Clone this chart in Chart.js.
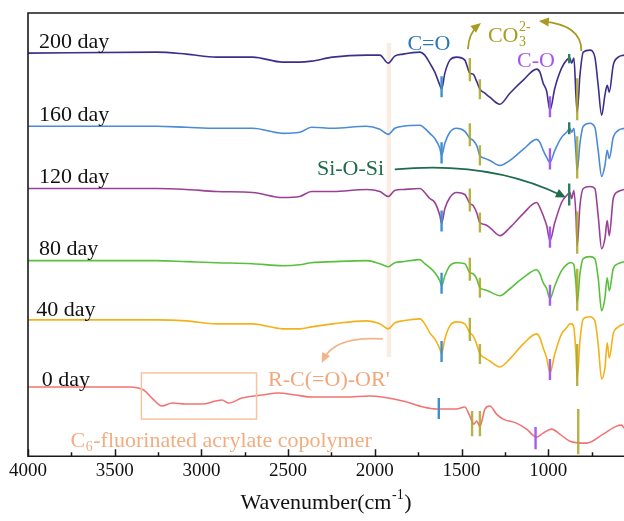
<!DOCTYPE html>
<html>
<head>
<meta charset="utf-8">
<script src="https://cdn.jsdelivr.net/npm/chart.js@4.4.1/dist/chart.umd.min.js"></script>
<style>
  html, body { margin: 0; padding: 0; background: #fff; }
  #wrap { width: 624px; height: 521px; }
</style>
</head>
<body>
<div id="wrap"><canvas id="ftir"></canvas></div>
<script>
// FTIR spectra, stacked transmittance (a.u.)
const tickValues = [4000, 3500, 3000, 2500, 2000, 1500, 1000];
const minorTickValues = [3750, 3250, 2750, 2250, 1750, 1250, 750];

// aged samples share one wavenumber grid
const wnAged = [4000, 3259, 3086, 2913, 2704, 2531, 2433, 2365, 2242, 2048, 1971, 1923, 1885, 1837, 1740, 1712, 1683, 1654, 1625, 1615,
  1596, 1567, 1529, 1481, 1452, 1433, 1413, 1394, 1365, 1337, 1279, 1221, 1144, 1067, 1048, 1029, 1009, 990, 962, 923,
  894, 875, 865, 852, 840, 833, 817, 798, 760, 731, 712, 692, 673, 660, 648, 625, 596, 563];

const day200 = [402, 403, 401, 398, 398, 393, 393, 394, 398, 400, 400, 392, 399, 401, 403, 400, 392, 383, 370, 366,
  382, 395, 398, 395, 382, 381, 374, 366, 362, 358, 351, 362, 375, 386, 383, 372, 364, 345, 367, 387,
  395, 397, 392, 397, 360, 343, 380, 403, 405, 398, 370, 340, 360, 370, 363, 390, 398, 400];
const day160 = [329, 329, 328, 327, 327, 322, 323, 328, 327, 329, 326, 321, 327, 329, 330, 327, 322, 317, 307, 300,
  312, 323, 327, 324, 317, 315, 310, 300, 297, 295, 290, 295, 306, 316, 313, 305, 298, 293, 305, 318,
  323, 327, 323, 327, 302, 285, 312, 329, 332, 328, 305, 279, 290, 305, 297, 318, 325, 327];
const day120 = [267, 267, 266, 264, 263, 258, 259, 264, 264, 266, 264, 259, 265, 266, 267, 263, 257, 253, 240, 232,
  247, 258, 263, 261, 252, 250, 243, 233, 231, 228, 220, 228, 242, 253, 248, 240, 230, 215, 233, 253,
  260, 263, 257, 265, 240, 210, 250, 267, 269, 267, 240, 207, 217, 235, 220, 257, 264, 266];
const day80 = [195, 195, 194, 193, 192, 190, 191, 193, 194, 195, 192, 189, 193, 194, 196, 192, 188, 183, 175, 170,
  180, 190, 193, 192, 183, 182, 177, 168, 166, 164, 160, 167, 178, 186, 182, 173, 167, 157, 170, 185,
  191, 193, 193, 191, 172, 153, 182, 197, 199, 197, 178, 145, 158, 178, 165, 187, 192, 194];
const day40 = [136, 136, 135, 132, 132, 127, 127, 129, 132, 135, 132, 127, 133, 135, 137, 132, 123, 117, 107, 102,
  117, 130, 134, 132, 123, 120, 112, 102, 98, 95, 89, 97, 112, 122, 118, 108, 98, 83, 102, 122,
  128, 132, 132, 128, 102, 78, 115, 137, 139, 135, 112, 77, 88, 113, 98, 122, 129, 132];

// unaged copolymer
const wn0 = [4000, 3419, 3333, 3285, 3227, 3169, 3092, 2996, 2919, 2881, 2842, 2766, 2650, 2554, 2457, 2362, 2169, 2029, 1837, 1721,
  1644, 1529, 1481, 1452, 1429, 1413, 1394, 1365, 1337, 1298, 1260, 1183, 1125, 1067, 1029, 981, 933, 875, 779, 683,
  606, 577, 563];
const day0 = [69, 69, 66, 58, 50, 53, 52, 52, 55, 56, 53, 58, 61, 63, 61, 59, 59, 60, 55, 49,
  47, 47, 49, 40, 32, 35, 30, 47, 50, 42, 37, 33, 27, 19, 23, 27, 22, 15, 13, 22,
  30, 31, 28];

const dayNames = ['200 day', '160 day', '120 day', '80 day', '40 day', '0 day'];

// band assignments: wavenumber and [low, high] span on each trace
const bandKind = ['C=O', 'CO3', 'CO3', 'C-O', 'Si-O-Si', 'CO3'];
const bandWn = [1615, 1452, 1394, 990, 879, 833];
const bands200 = [[358, 379], [374, 397], [356, 376], [338, 359], [392, 401], [335, 377]];
const bands160 = [[292, 313], [309, 332], [290, 310], [286, 307], [321, 333], [277, 319]];
const bands120 = [[224, 245], [244, 267], [223, 243], [208, 229], [250, 272], [202, 244]];
const bands80 = [[162, 183], [175, 198], [158, 178], [150, 171], null, [145, 187]];
const bands40 = [[94, 115], [115, 138], [92, 112], [76, 97], null, [70, 112]];
const bandKind0 = ['C=O', 'CO3', 'CO3', 'C-O', 'CO3'];
const bandWn0 = [1631, 1439, 1394, 1073, 827];
const bands0 = [[37, 58], [20, 45], [20, 45], [7, 29], [2, 47]];

const SERIF = '"Liberation Serif", "Times New Roman", serif';
const lineColors = ['#3b2f8c', '#4a8bd6', '#9a4196', '#58c13c', '#f3b21b', '#f27373'];
const bandColors = {
  'C=O': '#3d8fd1',
  'CO3': 'rgba(172,165,38,0.85)',
  'C-O': '#a35cf0',
  'Si-O-Si': '#2d7d5f'
};

const pts = (xs, ys) => xs.map((w, i) => ({ x: w, y: ys[i] }));

const traces = [
  pts(wnAged, day200), pts(wnAged, day160), pts(wnAged, day120),
  pts(wnAged, day80), pts(wnAged, day40), pts(wn0, day0)
];

const datasets = [];

// ester reference band (pale strip)
datasets.push({
  data: [{ x: 1919, y: 99 }, { x: 1919, y: 412 }],
  borderColor: 'rgba(244,218,200,0.5)',
  borderWidth: 4.5,
  pointRadius: 0,
  order: 3
});

traces.forEach((d, i) => {
  datasets.push({
    label: dayNames[i],
    data: d,
    borderColor: lineColors[i],
    borderWidth: 1.6,
    pointRadius: 0,
    cubicInterpolationMode: 'monotone',
    borderJoinStyle: 'round',
    order: 2
  });
});

function addBands(wns, kinds, spans) {
  spans.forEach((s, i) => {
    if (!s) return;
    datasets.push({
      data: [{ x: wns[i], y: s[0] }, { x: wns[i], y: s[1] }],
      borderColor: bandColors[kinds[i]],
      borderWidth: 2.4,
      borderCapStyle: 'butt',
      pointRadius: 0,
      order: 1
    });
  });
}
[bands200, bands160, bands120, bands80, bands40].forEach(b => addBands(bandWn, bandKind, b));
addBands(bandWn0, bandKind0, bands0);

// text with sub/superscripts
function richText(ctx, parts, px, py, size, color, align) {
  const base = size + 'px ' + SERIF;
  const small = Math.round(size * 0.65) + 'px ' + SERIF;
  const widths = parts.map(p => {
    if (p.sub || p.sup) {
      ctx.font = small;
      return Math.max(p.sub ? ctx.measureText(p.sub).width : 0, p.sup ? ctx.measureText(p.sup).width : 0) + 1;
    }
    ctx.font = base;
    return ctx.measureText(p.t).width;
  });
  const total = widths.reduce((s, w) => s + w, 0);
  let cx = align === 'left' ? px : px - total / 2;
  py += 2;
  ctx.fillStyle = color;
  ctx.textBaseline = 'middle';
  ctx.textAlign = 'left';
  parts.forEach((p, i) => {
    if (p.sub || p.sup) {
      ctx.font = small;
      if (p.sub) ctx.fillText(p.sub, cx + 0.5, py + size * 0.3);
      if (p.sup) ctx.fillText(p.sup, cx + 0.5, py - size * 0.38);
    } else {
      ctx.font = base;
      ctx.fillText(p.t, cx, py);
    }
    cx += widths[i];
  });
}

function curvedArrow(ctx, xs, ys, path, color, width) {
  const [s, c, e] = path.map(p => [xs.getPixelForValue(p[0]), ys.getPixelForValue(p[1])]);
  const ang = Math.atan2(e[1] - c[1], e[0] - c[0]);
  const len = 10, half = 4.5;
  ctx.strokeStyle = color;
  ctx.lineWidth = width;
  ctx.beginPath();
  ctx.moveTo(s[0], s[1]);
  ctx.quadraticCurveTo(c[0], c[1], e[0] - Math.cos(ang) * 4, e[1] - Math.sin(ang) * 4);
  ctx.stroke();
  ctx.fillStyle = color;
  ctx.beginPath();
  ctx.moveTo(e[0], e[1]);
  ctx.lineTo(e[0] - len * Math.cos(ang) + half * Math.sin(ang), e[1] - len * Math.sin(ang) - half * Math.cos(ang));
  ctx.lineTo(e[0] - len * Math.cos(ang) - half * Math.sin(ang), e[1] - len * Math.sin(ang) + half * Math.cos(ang));
  ctx.closePath();
  ctx.fill();
}

// labels and arrows, placed in wavenumber / a.u. coordinates
const dayLabelAt = [[3937, 415], [3937, 342], [3937, 280], [3937, 208], [3952, 148], [3921, 78]];
const notes = [
  { parts: [{ t: 'C=O' }], at: [1688, 413], color: '#2a78b8', align: 'center' },
  { parts: [{ t: 'CO' }, { sub: '3', sup: '2-' }], at: [1348, 421], color: '#a89b22', align: 'left' },
  { parts: [{ t: 'C-O' }], at: [1071, 396], color: '#a455ea', align: 'center' },
  { parts: [{ t: 'Si-O-Si' }], at: [2140, 288], color: '#1f6b4d', align: 'center' },
  { parts: [{ t: "R-C(=O)-OR'" }], at: [2265, 78], color: '#f2a77a', align: 'center' },
  { parts: [{ t: 'C' }, { sub: '6' }, { t: '-fluorinated acrylate copolymer' }], at: [2886, 17], color: '#f2ad80', align: 'center' }
];
const arrows = [
  { path: [[1463, 406], [1458, 422], [1388, 432]], color: '#a89b22' },
  { path: [[809, 404], [806, 430], [1054, 434]], color: '#a89b22' },
  { path: [[1885, 286], [1337, 295], [898, 258]], color: '#1f6b4d' },
  { path: [[1954, 117], [2231, 120], [2306, 93]], color: '#f4b48a' }
];
const boxWn = [3346, 2682];
const boxV = [37, 83];

const decor = {
  id: 'decor',
  afterDatasetsDraw(chart) {
    const { ctx, chartArea: a, scales: { x, y } } = chart;
    ctx.save();

    // frame (right side runs off the canvas)
    ctx.strokeStyle = '#1a1a1a';
    ctx.lineWidth = 1.6;
    ctx.beginPath();
    ctx.moveTo(a.right + 2, a.top);
    ctx.lineTo(a.left, a.top);
    ctx.lineTo(a.left, a.bottom);
    ctx.lineTo(a.right + 2, a.bottom);
    ctx.stroke();

    // inward ticks
    ctx.lineWidth = 1.5;
    ctx.beginPath();
    tickValues.forEach(v => {
      const px = Math.round(x.getPixelForValue(v)) + 0.5;
      ctx.moveTo(px, a.bottom);
      ctx.lineTo(px, a.bottom - 7);
    });
    minorTickValues.forEach(v => {
      const px = Math.round(x.getPixelForValue(v)) + 0.5;
      ctx.moveTo(px, a.bottom);
      ctx.lineTo(px, a.bottom - 4);
    });
    ctx.stroke();

    // region box on the unaged trace
    ctx.strokeStyle = '#f5c49f';
    ctx.lineWidth = 1.5;
    const bx0 = x.getPixelForValue(boxWn[0]), bx1 = x.getPixelForValue(boxWn[1]);
    const by0 = y.getPixelForValue(boxV[1]), by1 = y.getPixelForValue(boxV[0]);
    ctx.strokeRect(bx0, by0, bx1 - bx0, by1 - by0);

    arrows.forEach(ar => curvedArrow(ctx, x, y, ar.path, ar.color, 1.8));

    dayNames.forEach((n, i) => {
      richText(ctx, [{ t: n }], x.getPixelForValue(dayLabelAt[i][0]), y.getPixelForValue(dayLabelAt[i][1]), 22, '#111', 'left');
    });
    notes.forEach(nt => {
      richText(ctx, nt.parts, x.getPixelForValue(nt.at[0]), y.getPixelForValue(nt.at[1]), 22, nt.color, nt.align);
    });

    // axis title with superscript
    richText(ctx, [{ t: 'Wavenumber(cm' }, { sup: '-1' }, { t: ')' }], (a.left + a.right) / 2, a.bottom + 45, 22, '#111', 'center');
    ctx.restore();
  }
};

new Chart(document.getElementById('ftir'), {
  type: 'line',
  data: { datasets },
  options: {
    responsive: true,
    maintainAspectRatio: false,
    animation: false,
    devicePixelRatio: 1,
    layout: { padding: { left: 28, top: 13, right: 0, bottom: 36 } },
    plugins: { legend: { display: false }, tooltip: { enabled: false } },
    scales: {
      x: {
        type: 'linear',
        reverse: true,
        min: 563,
        max: 4000,
        afterBuildTicks: s => { s.ticks = tickValues.map(v => ({ value: v })); },
        ticks: {
          autoSkip: false,
          maxRotation: 0,
          padding: 3,
          color: '#111',
          font: { family: SERIF, size: 19 },
          callback: v => v
        },
        grid: { display: false, drawTicks: false },
        border: { display: false }
      },
      y: { display: false, min: 0, max: 442 }
    }
  },
  plugins: [decor]
});
</script>
</body>
</html>
